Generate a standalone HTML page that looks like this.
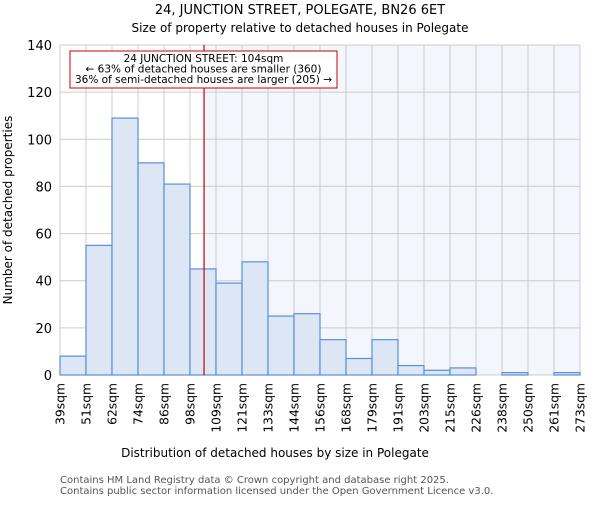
<!DOCTYPE html>
<html><head><meta charset="utf-8"><style>body{margin:0;background:#fff}svg text{font-family:"DejaVu Sans","Liberation Sans",sans-serif}</style></head>
<body>
<svg id="c" width="600" height="500">
<text x="300" y="14" font-size="13" text-anchor="middle">24, JUNCTION STREET, POLEGATE, BN26 6ET</text>
<text x="300" y="32" font-size="12" text-anchor="middle">Size of property relative to detached houses in Polegate</text>
<g id="plot"></g>
<text x="275" y="457" font-size="12" text-anchor="middle">Distribution of detached houses by size in Polegate</text>
<text x="12" y="210" font-size="12" text-anchor="middle" transform="rotate(-90 12 210)">Number of detached properties</text>
<text x="60" y="483" font-size="10" fill="#555">Contains HM Land Registry data © Crown copyright and database right 2025.</text>
<text x="60" y="494" font-size="10" fill="#555">Contains public sector information licensed under the Open Government Licence v3.0.</text>
</svg>
<script>
const edgeLabels=["39sqm","51sqm","62sqm","74sqm","86sqm","98sqm","109sqm","121sqm","133sqm","144sqm","156sqm","168sqm","179sqm","191sqm","203sqm","215sqm","226sqm","238sqm","250sqm","261sqm","273sqm"];
const counts=[8,55,109,90,81,45,39,48,25,26,15,7,15,4,2,3,0,1,0,1];
const yTicks=[0,20,40,60,80,100,120,140];
const subjectBin=5.54;
const X0=60,X1=580,Y0=375,Y1=45,YMAX=140;
const xs=i=>X0+i*(X1-X0)/counts.length;
const ys=v=>Y0-v*(Y0-Y1)/YMAX;
const NS="http://www.w3.org/2000/svg";
const g=document.getElementById('plot');
function mk(t,a,p){const e=document.createElementNS(NS,t);for(const k in a)e.setAttribute(k,a[k]);(p||g).appendChild(e);return e;}
const rx=xs(subjectBin);
const hl=mk('rect',{x:rx,y:Y1,width:X1-rx,height:Y0-Y1,fill:'#f3f6fd'});


for(let i=0;i<edgeLabels.length;i++){const l=mk('line',{x1:xs(i),x2:xs(i),y1:Y1,y2:Y0,stroke:'#ccc'});

}
yTicks.forEach(v=>{const l=mk('line',{x1:X0,x2:X1,y1:ys(v),y2:ys(v),stroke:'#ccc'});


const t=mk('text',{x:X0-8,y:ys(v)+5,'font-size':13,'text-anchor':'end'});t.textContent=v;

});
counts.forEach((c,i)=>{const r=mk('rect',{x:xs(i),y:ys(c),width:xs(i+1)-xs(i),height:Y0-ys(c),fill:'#dce6f5',stroke:'#5b8fd6','stroke-width':1.2});

});
edgeLabels.forEach((s,i)=>{const x=xs(i)+4.5,y=Y0+8;const t=mk('text',{x:x,y:y,'font-size':12.3,'text-anchor':'end',transform:`rotate(-90 ${x} ${y})`});t.textContent=s;

});
const ml=mk('line',{x1:rx,x2:rx,y1:Y1,y2:Y0,stroke:'#c00','stroke-width':1.2});


const ab=mk('g',{});


mk('rect',{x:70,y:51,width:267,height:37,fill:'#fff',stroke:'#c00'},ab);
["24 JUNCTION STREET: 104sqm","← 63% of detached houses are smaller (360)","36% of semi-detached houses are larger (205) →"].forEach((s,i)=>{const t=mk('text',{x:203.5,y:62+i*10.5,'font-size':10.5,'text-anchor':'middle'},ab);t.textContent=s;});
</script>
</body></html>
